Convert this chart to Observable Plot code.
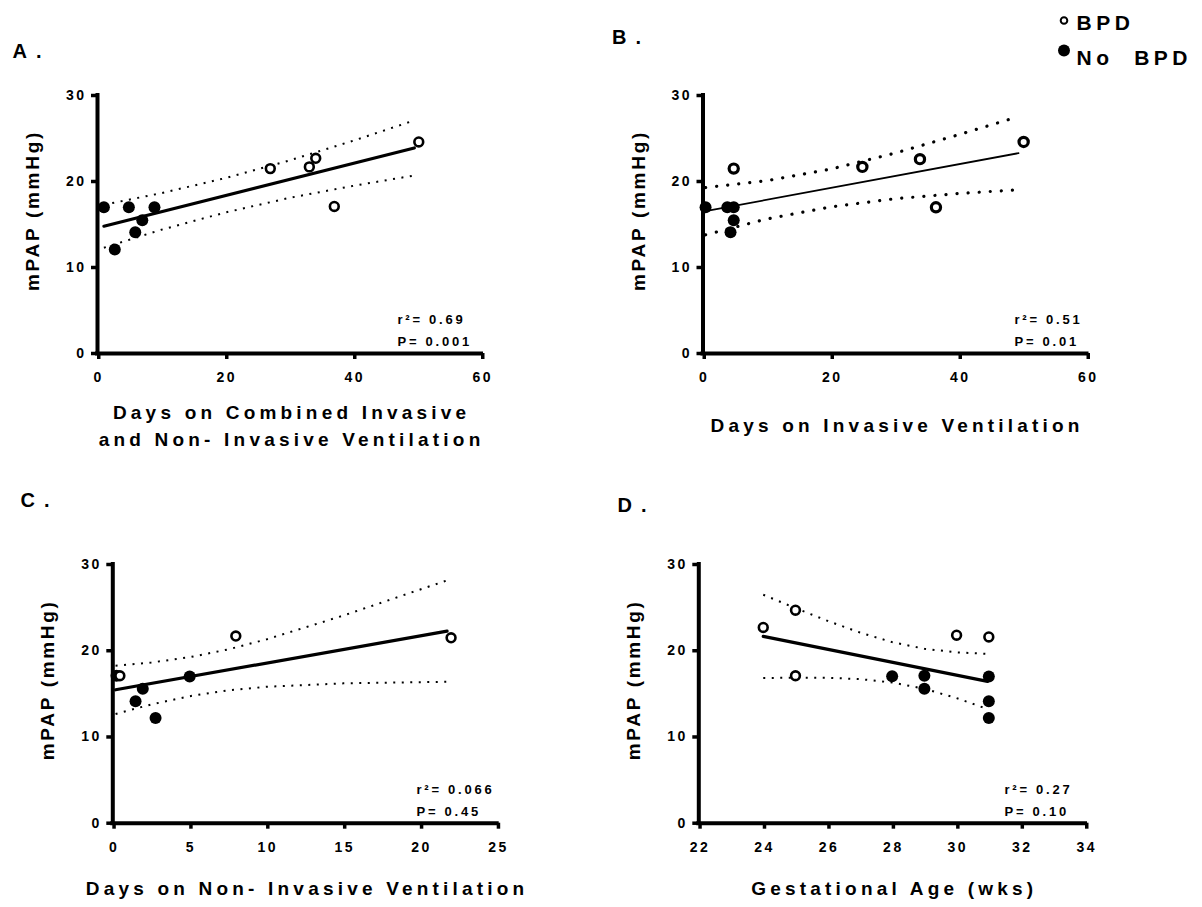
<!DOCTYPE html>
<html><head><meta charset="utf-8">
<script src="https://cdn.jsdelivr.net/npm/d3@7"></script>
<script src="https://cdn.jsdelivr.net/npm/@observablehq/plot@0.6"></script>
<style>
body{margin:0;background:#fff;}
#wrap{position:relative;width:1202px;height:907px;overflow:hidden;background:#fff;}
#wrap svg{position:absolute;}
</style></head><body><div id="wrap"></div>
<script>
// ---------- data ----------
const yTicks = [0, 10, 20, 30];
const yTitle = "mPAP (mmHg)";
const legendLabels = ["BPD", "No  BPD"];

// Panel A
const aTicks = [0, 20, 40, 60];
const aBpdX = [27.0, 33.1, 34.1, 37.0, 50.2];
const aBpdY = [21.5, 21.7, 22.7, 17.1, 24.6];
const aNoX = [1.0, 2.7, 4.9, 5.9, 7.0, 8.9];
const aNoY = [17.0, 12.1, 17.0, 14.1, 15.5, 17.0];
const aFitX = [1.0, 49.5];
const aFitY = [14.8, 23.9];
const aBandX = [1, 10, 20, 30, 40, 49.5];
const aUpper = [17.3, 18.65, 20.4, 22.45, 24.75, 27.1];
const aLower = [12.3, 14.4, 16.4, 18.1, 19.5, 20.7];
const aStats = ["r²= 0.69", "P= 0.001"];
const aTitle = "Days on Combined Invasive\nand Non- Invasive Ventilation";

// Panel B
const bTicks = [0, 20, 40, 60];
const bBpdX = [4.8, 24.9, 33.9, 36.4, 50.1];
const bBpdY = [21.5, 21.7, 22.6, 17.0, 24.6];
const bNoX = [0.4, 3.8, 4.8, 4.8, 4.3];
const bNoY = [17.0, 17.0, 17.0, 15.5, 14.1];
const bFitX = [0.4, 49.3];
const bFitY = [16.55, 23.3];
const bBandX = [0.4, 10, 20, 30, 40, 49.3];
const bUpper = [19.3, 20.1, 21.45, 23.3, 25.45, 27.55];
const bLower = [13.8, 15.65, 17.05, 18.0, 18.6, 19.05];
const bStats = ["r²= 0.51", "P= 0.01"];
const bTitle = "Days on Invasive Ventilation";

// Panel C
const cTicks = [0, 5, 10, 15, 20, 25];
const cBpdX = [0.46, 8.0, 22.0];
const cBpdY = [17.1, 21.7, 21.5];
const cNoX = [0.24, 1.48, 1.95, 2.78, 5.0];
const cNoY = [17.1, 14.15, 15.6, 12.2, 17.0];
const cFitX = [0.18, 21.74];
const cFitY = [15.47, 22.28];
const cBandX = [0.18, 2.5, 5, 7.5, 10, 15, 21.74];
const cUpper = [18.27, 18.63, 19.25, 20.15, 21.32, 24.08, 28.16];
const cLower = [12.67, 13.77, 14.73, 15.41, 15.82, 16.22, 16.40];
const cStats = ["r²= 0.066", "P= 0.45"];
const cTitle = "Days on Non- Invasive Ventilation";

// Panel D
const dTicks = [22, 24, 26, 28, 30, 32, 34];
const dBpdX = [24, 25, 25, 30, 31];
const dBpdY = [22.7, 24.7, 17.1, 21.8, 21.6];
const dNoX = [28, 29, 29, 31, 31, 31];
const dNoY = [17.05, 17.1, 15.6, 17.0, 14.15, 12.2];
const dFitX = [24, 30.96];
const dFitY = [21.66, 16.44];
const dBandX = [24, 25, 26, 27, 28, 29, 30, 30.96];
const dUpper = [26.49, 24.94, 23.46, 22.11, 21.00, 20.23, 19.81, 19.64];
const dLower = [16.83, 16.88, 16.86, 16.71, 16.32, 15.59, 14.51, 13.24];
const dStats = ["r²= 0.27", "P= 0.10"];
const dTitle = "Gestational Age (wks)";

// ---------- layout ----------
const fontFamily = "'Liberation Sans', Arial, Helvetica, sans-serif";
const rows = (xs, ys) => xs.map((x, i) => ({x, y: ys[i]}));

const panels = [
  {label: "A.", left: 0, top: 0, w: 601, h: 453, mL: 97, mR: 120, mT: 95, mB: 100,
   ticks: aTicks, bpd: rows(aBpdX, aBpdY), no: rows(aNoX, aNoY), fit: rows(aFitX, aFitY),
   up: rows(aBandX, aUpper), lo: rows(aBandX, aLower), stats: aStats, title: aTitle,
   labDx: -85, labDy: -44.4, statDx: -84, titleDy: 46.5,
   fitW: 3.2, bandW: 2, dash: "2,6.5", cap: "butt", openR: 4.4, openW: 2.6, legend: false},
  {label: "B.", left: 601, top: 0, w: 601, h: 453, mL: 101.5, mR: 115.5, mT: 95, mB: 100,
   ticks: bTicks, bpd: rows(bBpdX, bBpdY), no: rows(bNoX, bNoY), fit: rows(bFitX, bFitY),
   up: rows(bBandX, bUpper), lo: rows(bBandX, bLower), stats: bStats, title: bTitle,
   labDx: -91, labDy: -58.4, statDx: -72.5, titleDy: 59.5,
   fitW: 1.8, bandW: 3.2, dash: "0.1,11", cap: "round", openR: 4.6, openW: 3.2, legend: true},
  {label: "C.", left: 0, top: 453, w: 601, h: 454, mL: 112.3, mR: 104.3, mT: 111, mB: 84.3,
   ticks: cTicks, bpd: rows(cBpdX, cBpdY), no: rows(cNoX, cNoY), fit: rows(cFitX, cFitY),
   up: rows(cBandX, cUpper), lo: rows(cBandX, cLower), stats: cStats, title: cTitle,
   labDx: -92.3, labDy: -64.4, statDx: -80.7, titleDy: 53,
   fitW: 3.2, bandW: 2, dash: "2,6.5", cap: "butt", openR: 4.4, openW: 2.6, legend: false},
  {label: "D.", left: 601, top: 453, w: 601, h: 454, mL: 97.3, mR: 117, mT: 111, mB: 84.3,
   ticks: dTicks, bpd: rows(dBpdX, dBpdY), no: rows(dNoX, dNoY), fit: rows(dFitX, dFitY),
   up: rows(dBandX, dUpper), lo: rows(dBandX, dLower), stats: dStats, title: dTitle,
   labDx: -81.3, labDy: -59.4, statDx: -81, titleDy: 53,
   fitW: 3.2, bandW: 2, dash: "2,6.5", cap: "butt", openR: 4.4, openW: 2.6, legend: false}
];

const wrap = document.getElementById("wrap");
// letter spacing by text role (keyed on the font size given to each text mark)
const spacingBySize = {"13": "2.75px", "20": "9px", "21": "4.5px", "19": "4.2px"};

for (const p of panels) {
  const x0 = p.ticks[0], x1 = p.ticks[p.ticks.length - 1];
  const marks = [
    Plot.line(p.up, {x: "x", y: "y", strokeWidth: p.bandW, strokeDasharray: p.dash, strokeLinecap: p.cap}),
    Plot.line(p.lo, {x: "x", y: "y", strokeWidth: p.bandW, strokeDasharray: p.dash, strokeLinecap: p.cap}),
    Plot.line(p.fit, {x: "x", y: "y", strokeWidth: p.fitW}),
    Plot.ruleY([{x1: x0, x2: x1, y: 0}], {x1: "x1", x2: "x2", y: "y", strokeWidth: 4, strokeLinecap: "square"}),
    Plot.ruleX([{x: x0, y1: 0, y2: 30}], {x: "x", y1: "y1", y2: "y2", strokeWidth: 4, strokeLinecap: "square"}),
    Plot.axisY(yTicks, {tickSize: 6, tickPadding: 5, strokeWidth: 3.5, fontSize: 14, fontWeight: "bold", label: null, tickFormat: d => `${d}`}),
    Plot.axisX(p.ticks, {tickSize: 6, tickPadding: 13, strokeWidth: 3.5, fontSize: 14, fontWeight: "bold", label: null, dx: 1.25, tickFormat: d => `${d}`}),
    Plot.dot(p.no, {x: "x", y: "y", r: 6, fill: "black"}),
    Plot.dot(p.bpd, {x: "x", y: "y", r: p.openR, stroke: "black", strokeWidth: p.openW, fill: "white"}),
    Plot.text([p.stats[0]], {frameAnchor: "bottom-right", textAnchor: "start", lineAnchor: "middle", dx: p.statDx, dy: -33.2, fontSize: 13, fontWeight: "bold"}),
    Plot.text([p.stats[1]], {frameAnchor: "bottom-right", textAnchor: "start", lineAnchor: "middle", dx: p.statDx, dy: -11.2, fontSize: 13, fontWeight: "bold"}),
    Plot.text([p.label], {frameAnchor: "top-left", textAnchor: "start", lineAnchor: "middle", dx: p.labDx, dy: p.labDy, fontSize: 20, fontWeight: "bold"}),
    Plot.text([yTitle], {frameAnchor: "left", rotate: -90, textAnchor: "middle", lineAnchor: "middle", dx: -64.5, dy: -14, fontSize: 19, fontWeight: "bold"}),
    Plot.text([p.title], {frameAnchor: "bottom", textAnchor: "middle", lineAnchor: "top", lineHeight: 1.42, dx: 2.1, dy: p.titleDy, fontSize: 19, fontWeight: "bold"})
  ];
  if (p.legend) {
    marks.push(
      Plot.dot([0], {frameAnchor: "top-right", dx: -23, dy: -75, r: 3.3, stroke: "black", strokeWidth: 2, fill: "white"}),
      Plot.dot([0], {frameAnchor: "top-right", dx: -23, dy: -45, r: 6, fill: "black"}),
      Plot.text([legendLabels[0]], {frameAnchor: "top-right", textAnchor: "start", lineAnchor: "middle", dx: -10.5, dy: -72.5, fontSize: 21, fontWeight: "bold"}),
      Plot.text([legendLabels[1]], {frameAnchor: "top-right", textAnchor: "start", lineAnchor: "middle", dx: -10.5, dy: -37.5, fontSize: 21, fontWeight: "bold"})
    );
  }
  const svg = Plot.plot({
    width: p.w, height: p.h,
    marginLeft: p.mL, marginRight: p.mR, marginTop: p.mT, marginBottom: p.mB,
    style: {fontFamily, fontWeight: "bold", background: "transparent", overflow: "visible", maxWidth: "none", color: "black"},
    x: {domain: [x0, x1], nice: false},
    y: {domain: [0, 30], nice: false},
    marks
  });
  svg.style.left = p.left + "px";
  svg.style.top = p.top + "px";
  svg.querySelectorAll('g[aria-label="x-axis tick label"], g[aria-label="y-axis tick label"]')
    .forEach(g => g.style.letterSpacing = "2.5px");
  svg.querySelectorAll("g[font-size]").forEach(g => {
    const s = spacingBySize[g.getAttribute("font-size")];
    if (s) g.style.letterSpacing = s;
  });
  svg.querySelectorAll("text").forEach(t => {
    if (t.textContent === yTitle) t.style.letterSpacing = "2.7px";
  });
  wrap.appendChild(svg);
}
</script></body></html>
